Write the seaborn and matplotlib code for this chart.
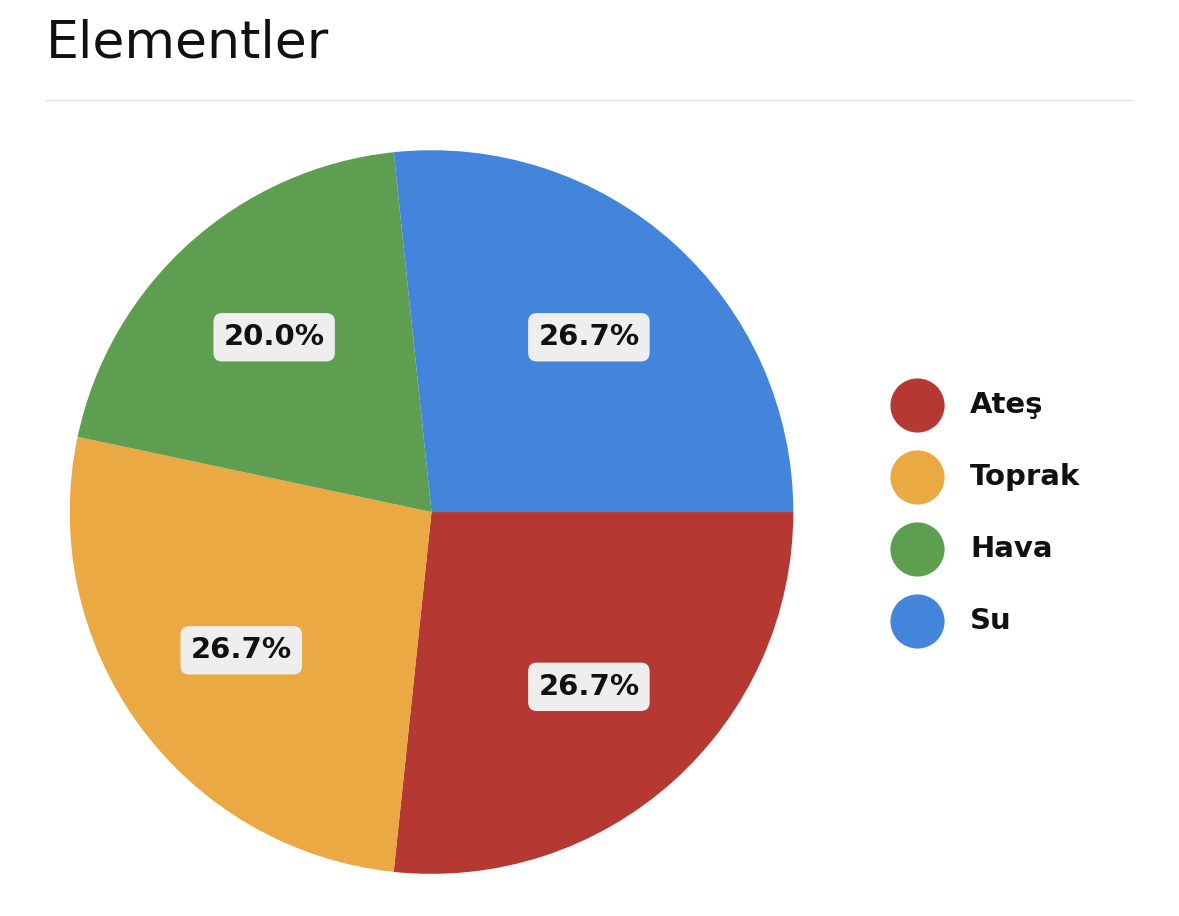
import matplotlib
matplotlib.use("Agg")
import matplotlib.pyplot as plt
from matplotlib.lines import Line2D
import seaborn as sns

labels = ["Ateş", "Toprak", "Hava", "Su"]
values = [4, 4, 3, 4]
colors = ["#b53832", "#eba944", "#5d9e51", "#4285db"]

sns.set_theme(style="white")
plt.rcParams['font.family'] = ['DejaVu Sans']

fig = plt.figure(figsize=(11.79, 9.16), dpi=100)
fig.patch.set_facecolor("white")

# title and separator line
fig.text(0.039, 0.952, "Elementler", fontsize=37.5, ha="left", va="center", color="#111111")
fig.add_artist(Line2D([0.038, 0.961], [0.891, 0.891], color="#e4e4e4", lw=1))

ax = fig.add_axes([0.059, 0.046, 0.614, 0.790])
wedges, texts, autotexts = ax.pie(
    values, colors=colors, startangle=0, counterclock=False,
    autopct="%.1f%%", pctdistance=0.65,
    wedgeprops=dict(linewidth=0),
    textprops=dict(fontsize=21, fontweight="bold", color="#111111"))
for t in autotexts:
    t.set_bbox(dict(boxstyle="round,pad=0.35,rounding_size=0.3", fc="#eeeeee", ec="none"))
ax.set_xlim(-1, 1)
ax.set_ylim(-1, 1)

# legend drawn by hand: circle marker + bold label per row
W, H = 1179, 916
for i, (lab, c) in enumerate(zip(labels, colors)):
    y = 1 - (405 + 72 * i) / H
    fig.add_artist(Line2D([917 / W], [y], marker="o", linestyle="none", markersize=38,
                          markerfacecolor=c, markeredgecolor=c))
    fig.text(970 / W, y, lab, fontsize=21, fontweight="bold", color="#111111",
             ha="left", va="center")

fig.savefig("out.png", dpi=100, facecolor="white")
